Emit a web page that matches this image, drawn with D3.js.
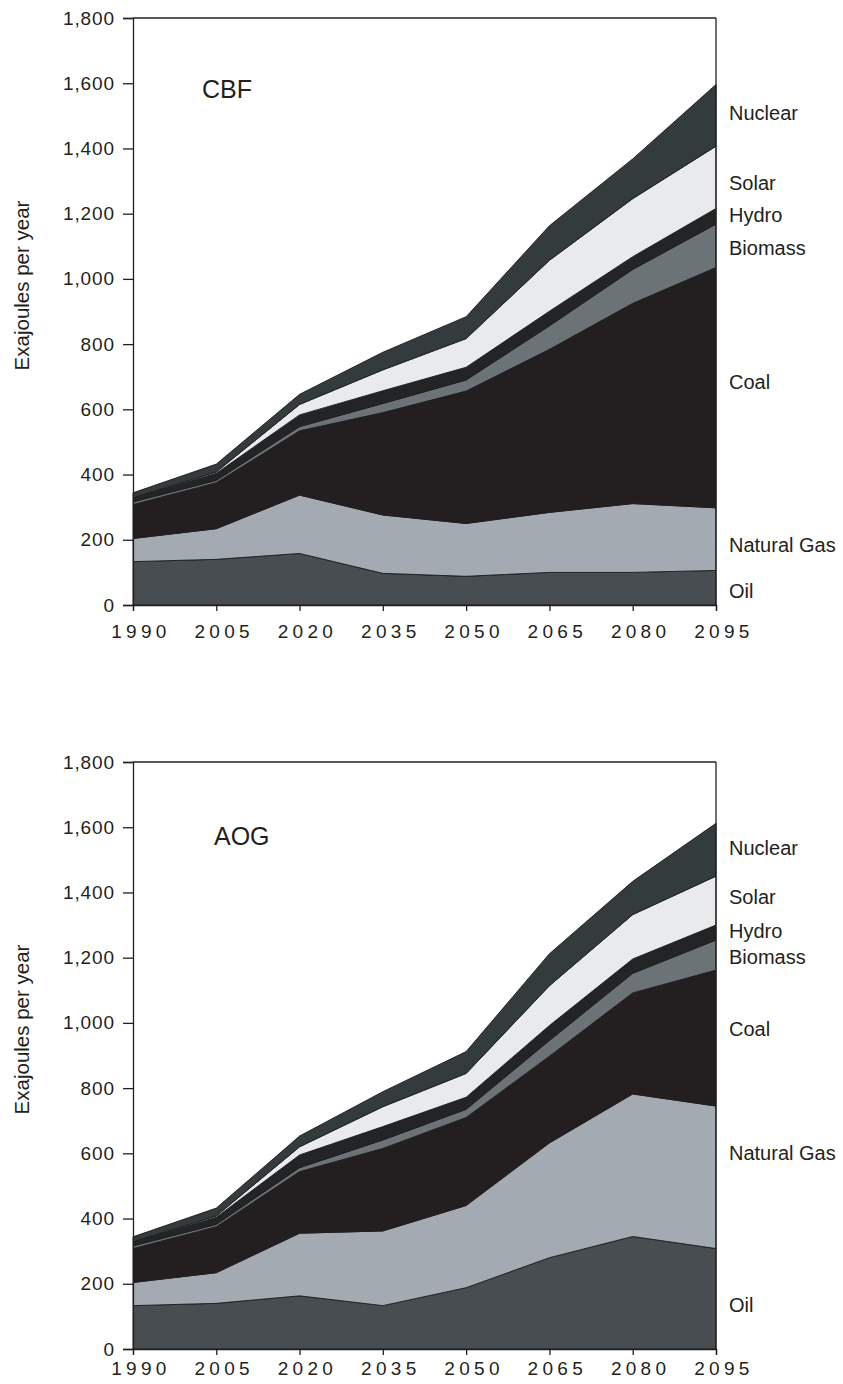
<!DOCTYPE html>
<html><head><meta charset="utf-8">
<script src="https://cdn.jsdelivr.net/npm/d3@7"></script>
<style>
html,body{margin:0;padding:0;background:#fff;}
svg text{font-family:"Liberation Sans",Arial,Helvetica,sans-serif;fill:#231f20;}
</style></head>
<body><svg id="c" width="843" height="1384"></svg>
<script>
const years = [1990, 2005, 2020, 2035, 2050, 2065, 2080, 2095];
const sources = ["Oil", "Natural Gas", "Coal", "Biomass", "Hydro", "Solar", "Nuclear"];
const yTicks = [0, 200, 400, 600, 800, 1000, 1200, 1400, 1600, 1800];

// CBF scenario (EJ/yr)
const cbfOil     = [133, 140, 158,  97,  88, 100, 100, 106];
const cbfGas     = [ 71,  94, 179, 179, 162, 184, 211, 192];
const cbfCoal    = [104, 141, 197, 314, 406, 500, 614, 737];
const cbfBiomass = [  8,   7,  13,  28,  34,  72, 104, 133];
const cbfHydro   = [ 12,  22,  36,  39,  39,  45,  39,  48];
const cbfSolar   = [  1,   4,  32,  64,  88, 156, 178, 191];
const cbfNuclear = [ 15,  24,  31,  54,  67, 106, 122, 189];

// AOG scenario (EJ/yr)
const aogOil     = [133, 140, 163, 133, 188, 280, 345, 308];
const aogGas     = [ 71,  94, 192, 229, 252, 352, 437, 437];
const aogCoal    = [104, 141, 189, 253, 270, 266, 310, 417];
const aogBiomass = [  8,   7,  12,  26,  25,  48,  60,  92];
const aogHydro   = [ 12,  22,  39,  41,  37,  46,  44,  46];
const aogSolar   = [  1,   4,  25,  61,  73, 122, 136, 150];
const aogNuclear = [ 15,  24,  33,  46,  67,  98, 102, 162];

const colors = {"Oil":"#474d50","Natural Gas":"#a4aab1","Coal":"#231f20","Biomass":"#6b7377","Hydro":"#232425","Solar":"#e9eaec","Nuclear":"#343b3c"};

function rows(arrs){
  return years.map((yr,i)=>{
    const r={year:yr};
    sources.forEach((s,k)=>r[s]=arrs[k][i]);
    return r;
  });
}

const panels = [
  {title:"CBF", top:18, xLabelY:33, data:rows([cbfOil,cbfGas,cbfCoal,cbfBiomass,cbfHydro,cbfSolar,cbfNuclear]),
   titlePos:[202,98],
   labels:{"Nuclear":120,"Solar":190,"Hydro":222,"Biomass":255,"Coal":389,"Natural Gas":552,"Oil":598}},
  {title:"AOG", top:762, xLabelY:26, data:rows([aogOil,aogGas,aogCoal,aogBiomass,aogHydro,aogSolar,aogNuclear]),
   titlePos:[214,845],
   labels:{"Nuclear":855,"Solar":904,"Hydro":938,"Biomass":964,"Coal":1036,"Natural Gas":1160,"Oil":1312}}
];

const svg = d3.select("#c");
const left = 133, right = 716, h = 587;

panels.forEach(p=>{
  const x = d3.scaleLinear().domain([1990,2095]).range([left,right]);
  const y = d3.scaleLinear().domain([0,1800]).range([p.top+h,p.top]);
  const stack = d3.stack().keys(sources)(p.data);
  const area = d3.area().x(d=>x(d.data.year)).y0(d=>y(d[0])).y1(d=>y(d[1]));
  const g = svg.append("g");
  g.selectAll("path.layer").data(stack).join("path")
    .attr("class","layer")
    .attr("d",area)
    .attr("fill",d=>colors[d.key])
    .attr("stroke","#1e1c1c").attr("stroke-width",0.9).attr("stroke-linejoin","round");

  // axes
  const ya = d3.axisLeft(y).tickValues(yTicks).tickSize(10).tickPadding(8).tickFormat(d3.format(","));
  const yg = g.append("g").attr("transform",`translate(${left},0)`).call(ya);
  yg.selectAll("text").style("font-size","19px").style("letter-spacing","0.9px");
  const xa = d3.axisBottom(x).tickValues(years).tickSize(6).tickPadding(4).tickFormat(d3.format("d"));
  const xg = g.append("g").attr("transform",`translate(0,${p.top+h})`).call(xa);
  xg.selectAll("text").style("font-size","19px").style("letter-spacing","4.3px")
    .attr("dx","7.4px").attr("dy","0").attr("y",p.xLabelY);
  [yg,xg].forEach(a=>{a.selectAll("line,path").attr("stroke","#231f20").attr("stroke-width",1.3);});
  // frame: right and top lines
  g.append("line").attr("x1",right).attr("x2",right).attr("y1",p.top).attr("y2",p.top+h)
    .attr("stroke","#231f20").attr("stroke-width",1.3);
  g.append("line").attr("x1",left).attr("x2",right).attr("y1",p.top).attr("y2",p.top)
    .attr("stroke","#231f20").attr("stroke-width",1.3);

  // y title
  g.append("text").attr("transform",`translate(29,${p.top+h/2-26}) rotate(-90)`)
    .attr("text-anchor","middle").style("font-size","20.5px").text("Exajoules per year");
  // panel title
  g.append("text").attr("x",p.titlePos[0]).attr("y",p.titlePos[1])
    .style("font-size","25px").text(p.title);
  // series labels
  sources.forEach(s=>{
    g.append("text").attr("x",729).attr("y",p.labels[s])
      .style("font-size","20px").text(s);
  });
});
</script></body></html>
